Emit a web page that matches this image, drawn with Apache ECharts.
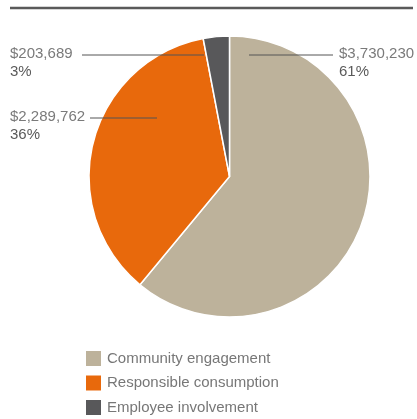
<!DOCTYPE html>
<html>
<head>
<meta charset="utf-8">
<style>
  html, body { margin: 0; padding: 0; background: #fff; }
  #chart { width: 417px; height: 419px; }
</style>
<script src="https://cdn.jsdelivr.net/npm/echarts@6/dist/echarts.min.js"></script>
</head>
<body>
<div id="chart"></div>
<script>
// Funding split by programme area
const categories = ['Community engagement', 'Responsible consumption', 'Employee involvement'];
const shares = [61, 36, 3];                              // percent of total
const amounts = ['$3,730,230', '$2,289,762', '$203,689']; // dollar amounts
const colors = ['#bdb29b', '#e8690c', '#58585a'];

const FONT = 'Liberation Sans, Helvetica, Arial, sans-serif';

// Callout placement per slice: text anchor and leader line
const callouts = [
  { x: 339, y: 54,  line: [249, 55, 333, 55] },
  { x: 10,  y: 117, line: [90, 118, 157, 118] },
  { x: 10,  y: 54,  line: [82, 55, 204, 55] }
];

const calloutGraphics = [];
categories.forEach((name, i) => {
  const c = callouts[i];
  calloutGraphics.push({
    type: 'line', z: 100,
    shape: { x1: c.line[0], y1: c.line[1], x2: c.line[2], y2: c.line[3] },
    style: { stroke: '#555', lineWidth: 1 }
  });
  calloutGraphics.push({
    type: 'text', z: 100, x: c.x, y: c.y,
    style: { text: amounts[i], fill: '#7a7a7a', font: '15px ' + FONT, verticalAlign: 'middle', align: 'left' }
  });
  calloutGraphics.push({
    type: 'text', z: 100, x: c.x, y: c.y + 18,
    style: { text: shares[i] + '%', fill: '#5a5a5a', font: '15px ' + FONT, verticalAlign: 'middle', align: 'left' }
  });
});

const chart = echarts.init(document.getElementById('chart'), null, { renderer: 'canvas' });

chart.setOption({
  animation: false,
  color: colors,
  graphic: [{
    type: 'line',
    shape: { x1: 10, y1: 8, x2: 413, y2: 8 },
    style: { stroke: '#5a5a5a', lineWidth: 2.5 }
  }].concat(calloutGraphics),
  legend: {
    orient: 'vertical',
    left: 84,
    top: 349,
    height: 80,
    icon: 'rect',
    itemWidth: 17,
    itemHeight: 17,
    itemGap: 5.5,
    padding: 0,
    textStyle: { color: '#777', fontSize: 15, fontFamily: FONT, padding: [0, 0, 0, 0] },
    data: categories
  },
  series: [{
    type: 'pie',
    center: [229.5, 176.5],
    radius: [0, 140.5],
    startAngle: 90,
    clockwise: true,
    emphasis: { disabled: true },
    itemStyle: { borderColor: '#fff', borderWidth: 1.5 },
    label: { show: false },
    labelLine: { show: false },
    data: categories.map((name, i) => ({ name, value: shares[i] }))
  }]
});
</script>
</body>
</html>
